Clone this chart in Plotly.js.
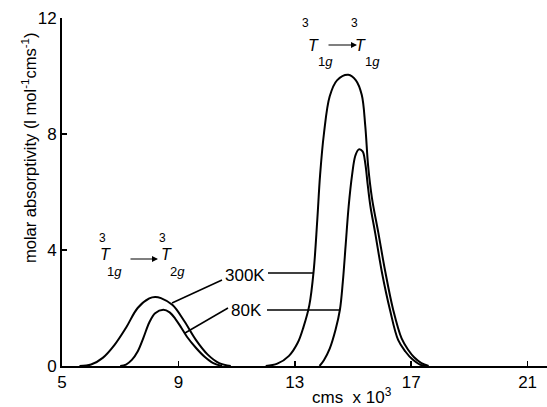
<!DOCTYPE html>
<html>
<head>
<meta charset="utf-8">
<script src="https://cdn.plot.ly/plotly-3.0.1.min.js"></script>
<style>html,body{margin:0;padding:0;background:#fff;}#chart{width:547px;height:407px;}</style>
</head>
<body>
<div id="chart"></div>
<script>
// Data (wavenumber in cm^-1 x 10^3, molar absorptivity)
const low300X = [5.6, 6.0, 6.4, 6.8, 7.2, 7.6, 8.0, 8.2, 8.4, 8.8, 9.2, 9.6, 10.0, 10.4, 10.8];
const low300Y = [0, 0.05, 0.28, 0.72, 1.32, 2.0, 2.33, 2.38, 2.34, 2.1, 1.55, 0.9, 0.4, 0.1, 0];
const low80X = [7.0, 7.2, 7.4, 7.6, 7.8, 8.0, 8.2, 8.48, 8.7, 8.9, 9.1, 9.3, 9.6, 9.9, 10.2, 10.5];
const low80Y = [0, 0.05, 0.21, 0.5, 0.98, 1.5, 1.82, 1.94, 1.85, 1.62, 1.32, 1.0, 0.63, 0.32, 0.1, 0];
const high300X = [12.0, 12.4, 12.8, 13.1, 13.3, 13.5, 13.65, 13.77, 13.87, 14.0, 14.2, 14.45, 14.84, 15.1, 15.3, 15.42, 15.52, 15.65, 15.87, 16.1, 16.38, 16.67, 16.9, 17.1, 17.35, 17.6];
const high300Y = [0, 0.08, 0.35, 0.8, 1.35, 2.1, 3.3, 5.0, 6.6, 8.0, 9.3, 9.85, 10.04, 9.85, 9.35, 8.3, 6.9, 5.8, 4.6, 3.3, 1.94, 0.95, 0.55, 0.3, 0.1, 0];
const high80X = [13.85, 14.0, 14.2, 14.4, 14.55, 14.65, 14.75, 14.85, 14.97, 15.08, 15.2, 15.33, 15.42, 15.5, 15.6, 15.76, 16.0, 16.27, 16.55, 16.8, 17.05, 17.3, 17.5];
const high80Y = [0, 0.2, 0.6, 1.25, 1.94, 2.9, 4.2, 5.5, 6.6, 7.25, 7.47, 7.4, 7.0, 6.3, 5.5, 4.6, 3.2, 1.94, 0.9, 0.5, 0.22, 0.05, 0];
const xTicks = [5, 9, 13, 17, 21];
const yTicks = [0, 4, 8, 12];

// pixel -> data helpers for annotation placement
const X0 = 62, PXU = 29.1, Y0 = 366, PYU = 29;
const dx = p => 5 + (p - X0) / PXU;
const dy = p => (Y0 - p) / PYU;

const lineStyle = {color: '#000', width: 2, shape: 'spline', smoothing: 1};
const traces = [
  {x: low300X, y: low300Y, name: '300K', mode: 'lines', line: lineStyle},
  {x: high300X, y: high300Y, name: '300K', mode: 'lines', line: lineStyle},
  {x: low80X, y: low80Y, name: '80K', mode: 'lines', line: lineStyle},
  {x: high80X, y: high80Y, name: '80K', mode: 'lines', line: lineStyle}
];

const F = 'Liberation Sans, Arial, sans-serif';
function txt(t, px, py, size, extra) {
  return Object.assign({text: t, x: dx(px), y: dy(py), xref: 'x', yref: 'y', showarrow: false,
    xanchor: 'center', yanchor: 'middle', font: {family: F, size: size, color: '#000'}}, extra || {});
}
function arrow(px1, px2, py) {
  return {x: dx(px2), y: dy(py), ax: dx(px1), ay: dy(py), xref: 'x', yref: 'y', axref: 'x', ayref: 'y',
    text: '', showarrow: true, arrowhead: 2, arrowsize: 1, arrowwidth: 1.2, arrowcolor: '#000'};
}

const annotations = [
  // y title
  {text: 'molar absorptivity (l mol<sup>-1</sup>cms<sup>-1</sup>)', xref: 'paper', yref: 'paper',
   x: (29 - X0) / 485, y: (Y0 - 148) / 348, textangle: -90, showarrow: false,
   xanchor: 'center', yanchor: 'middle', font: {family: F, size: 16.5, color: '#000'}},
  // x title
  {text: 'cms  x 10<sup>3</sup>', xref: 'paper', yref: 'paper', x: (352 - X0) / 485, y: (Y0 - 396) / 348,
   showarrow: false, xanchor: 'center', yanchor: 'middle', font: {family: F, size: 17, color: '#000'}},
  // labels
  txt('300K', 267, 275, 17, {xanchor: 'right'}),
  txt('80K', 264, 310, 17, {xanchor: 'right'}),
  // low band transition
  txt('3', 102, 238, 12), txt('<i>T</i>', 105, 254, 16), txt('1<i>g</i>', 114, 271, 13),
  arrow(129, 158, 259),
  txt('3', 162, 238, 12), txt('<i>T</i>', 166, 254, 16), txt('2<i>g</i>', 177, 271, 13),
  // high band transition
  txt('3', 305, 23, 12), txt('<i>T</i>', 313, 45, 16), txt('1<i>g</i>', 325, 61, 13),
  arrow(327, 357, 45),
  txt('3', 354, 23, 12), txt('<i>T</i>', 360, 45, 16), txt('1<i>g</i>', 372, 61, 13)
];

const seg = (x1, y1, x2, y2) => ({type: 'line', xref: 'x', yref: 'y', x0: dx(x1), y0: dy(y1), x1: dx(x2), y1: dy(y2),
  line: {color: '#000', width: 1.5}});
const shapes = [
  seg(268, 273, 313, 273),
  seg(222, 280, 172, 303),
  seg(267, 310, 340, 310),
  seg(228, 308, 185, 333)
];

const layout = {
  width: 547, height: 407,
  margin: {l: 62, r: 0, t: 18, b: 41},
  paper_bgcolor: '#fff', plot_bgcolor: '#fff',
  showlegend: false,
  font: {family: F, size: 16, color: '#000'},
  xaxis: {range: [5, 5 + 485 / PXU], tickvals: xTicks, ticktext: xTicks.map(String), ticks: 'inside', ticklen: 5,
    tickwidth: 1.5, tickcolor: '#000', showline: true, linecolor: '#000', linewidth: 2, showgrid: false,
    zeroline: false, tickfont: {family: F, size: 17, color: '#000'}},
  yaxis: {range: [0, 348 / PYU], tickvals: yTicks, ticktext: yTicks.map(String), ticks: 'inside', ticklen: 5,
    tickwidth: 1.5, tickcolor: '#000', showline: true, linecolor: '#000', linewidth: 2, showgrid: false,
    zeroline: false, tickfont: {family: F, size: 17, color: '#000'}},
  annotations: annotations,
  shapes: shapes
};

Plotly.newPlot('chart', traces, layout, {displayModeBar: false, staticPlot: true});
</script>
</body>
</html>
